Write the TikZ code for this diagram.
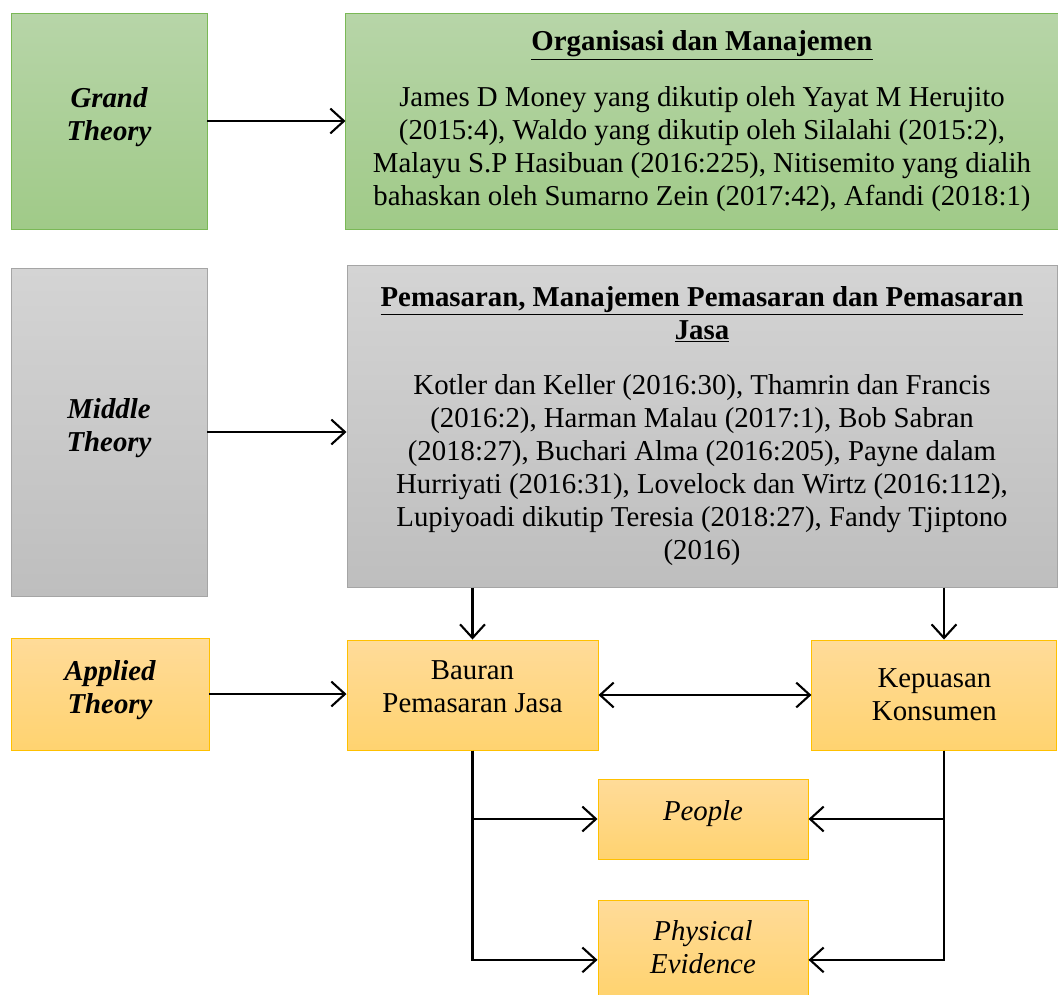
\documentclass[tikz,border=0pt]{standalone}
\usepackage{fontspec}
\setmainfont{Liberation Serif}
\usetikzlibrary{arrows.meta, positioning}

\definecolor{greenTop}{RGB}{183,213,168}
\definecolor{greenBot}{RGB}{160,202,136}
\definecolor{greenLine}{RGB}{122,184,86}
\definecolor{grayTop}{RGB}{212,212,212}
\definecolor{grayBot}{RGB}{190,190,190}
\definecolor{grayLine}{RGB}{165,165,165}
\definecolor{orangeTop}{RGB}{255,219,153}
\definecolor{orangeBot}{RGB}{255,211,112}
\definecolor{orangeLine}{RGB}{255,192,0}

\begin{document}
\begin{tikzpicture}[
  font=\fontsize{20.5}{23.5}\selectfont,
  % Box styles
  box/.style={draw, line width=0.7pt, align=center, inner sep=2pt},
  grandbox/.style={box, draw=greenLine, top color=greenTop, bottom color=greenBot},
  middlebox/.style={box, draw=grayLine, top color=grayTop, bottom color=grayBot},
  appliedbox/.style={box, draw=orangeLine, top color=orangeTop, bottom color=orangeBot},
  level/.style={font=\fontsize{20.5}{23.5}\selectfont\bfseries\itshape},
  arrow/.style={-{Straight Barb[length=0.34cm, width=0.62cm]}, line width=1.5pt},
  biarrow/.style={{Straight Barb[length=0.34cm, width=0.62cm]}-{Straight Barb[length=0.34cm, width=0.62cm]}, line width=1.5pt},
]
\useasboundingbox (0,0) rectangle (26.45,-24.85);

% ---- GRAND THEORY ----
\node[grandbox, level, minimum width=4.9cm, minimum height=5.4cm] (grand) at (2.725,-3.025) {Grand\\Theory\\[-14pt]};
\node[grandbox, minimum width=17.8cm, minimum height=5.4cm, right=3.45cm of grand] (org)
  {\textbf{\underline{Organisasi dan Manajemen}}\\[16pt]
   James D Money yang dikutip oleh Yayat M Herujito\\
   (2015:4), Waldo yang dikutip oleh Silalahi (2015:2),\\
   Malayu S.P Hasibuan (2016:225), Nitisemito yang dialih\\
   bahaskan oleh Sumarno Zein (2017:42), Afandi (2018:1)};
\draw[arrow] (grand) -- (org);

% ---- MIDDLE THEORY ----
\node[middlebox, level, minimum width=4.9cm, minimum height=8.2cm] (middle) at (2.725,-10.8) {Middle\\Theory\\[-14pt]};
\node[middlebox, minimum width=17.75cm, minimum height=8.05cm] (pem) at (17.55,-10.65)
  {\textbf{\underline{Pemasaran, Manajemen Pemasaran dan Pemasaran}}\\
   \textbf{\underline{Jasa}}\\[16pt]
   Kotler dan Keller (2016:30), Thamrin dan Francis\\
   (2016:2), Harman Malau (2017:1), Bob Sabran\\
   (2018:27), Buchari Alma (2016:205), Payne dalam\\
   Hurriyati (2016:31), Lovelock dan Wirtz (2016:112),\\
   Lupiyoadi dikutip Teresia (2018:27), Fandy Tjiptono\\
   (2016)};
\draw[arrow] (middle.east) -- (middle.east -| pem.west);

% ---- APPLIED THEORY ----
\node[appliedbox, level, minimum width=4.95cm, minimum height=2.8cm] (applied) at (2.75,-17.35) {Applied\\Theory\\[-14pt]};
\node[appliedbox, minimum width=6.275cm, minimum height=2.75cm] (bauran) at (11.8125,-17.375) {Bauran\\Pemasaran Jasa\\[-12pt]};
\node[appliedbox, minimum width=6.125cm, minimum height=2.75cm] (kepuasan) at (23.36,-17.375) {Kepuasan\\Konsumen};
\node[appliedbox, minimum width=5.25cm, minimum height=2.0cm] (people) at (17.575,-20.475) {\textit{People}\\[-12pt]};
\node[appliedbox, minimum width=5.25cm, minimum height=2.375cm, below=1.0cm of people] (physical) {\textit{Physical}\\\textit{Evidence}};

\draw[arrow] (applied.east) -- (applied.east -| bauran.west);
\draw[biarrow] (bauran) -- (kepuasan);

% pem -> variables
\coordinate (kin) at ([xshift=0.24cm]kepuasan.north);
\coordinate (kout) at ([xshift=0.24cm]kepuasan.south);
\draw[arrow] (bauran.north |- pem.south) -- (bauran.north);
\draw[arrow] (kin |- pem.south) -- (kin);

% variables -> dimensions
\coordinate (pwest) at ([yshift=-0.31cm]physical.west);
\coordinate (peast) at ([yshift=-0.31cm]physical.east);
\draw[arrow] (bauran.south) |- (people.west);
\draw[arrow] (bauran.south) |- (pwest);
\draw[arrow] (kout) |- (people.east);
\draw[arrow] (kout) |- (peast);

\end{tikzpicture}
\end{document}
